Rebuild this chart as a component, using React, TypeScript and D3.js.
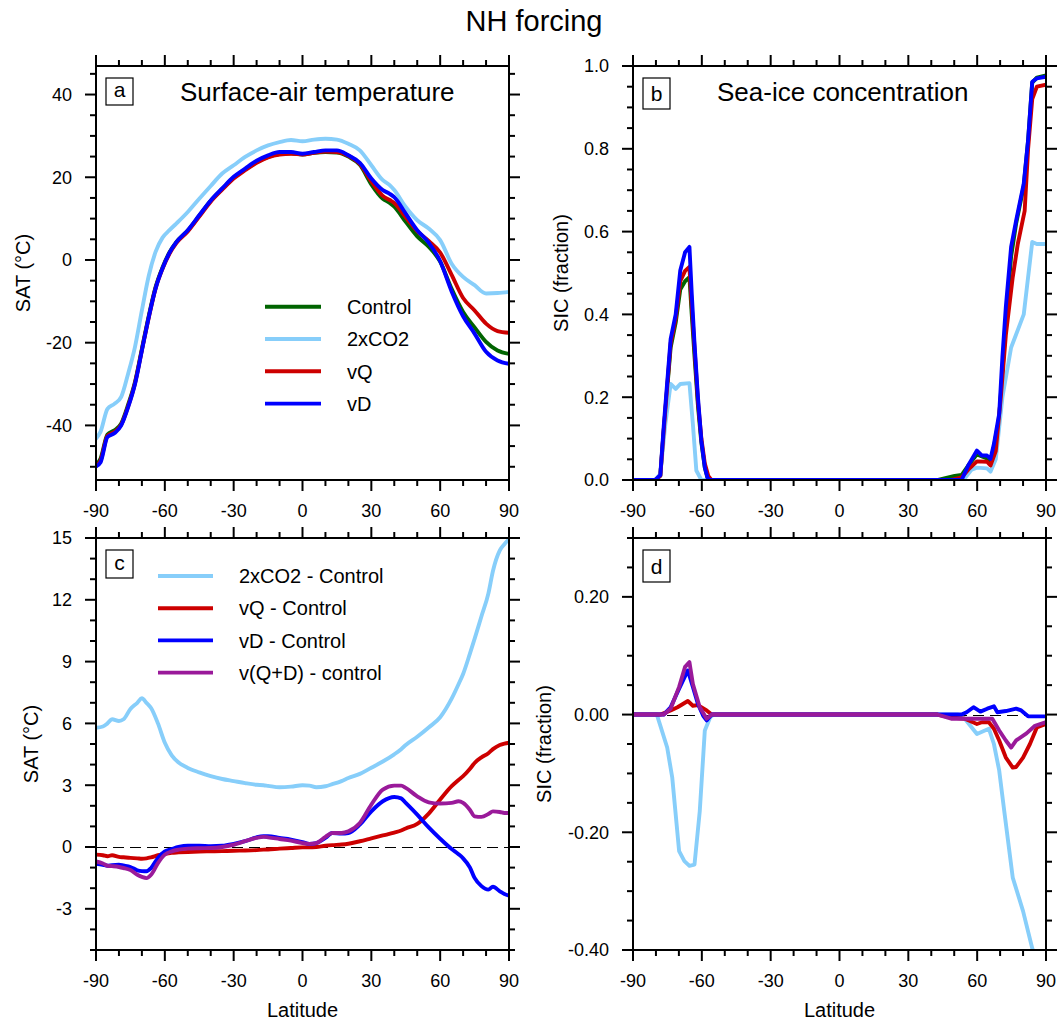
import React from 'react';
import * as d3 from 'd3';

// ---------- tick labels ----------
const latTicks = [-90, -60, -30, 0, 30, 60, 90];
const satTicksA = [-40, -20, 0, 20, 40];
const sicTicksB = [0, 0.2, 0.4, 0.6, 0.8, 1.0];
const satTicksC = [-3, 0, 3, 6, 9, 12, 15];
const sicTicksD = [-0.4, -0.2, 0, 0.2];

// ---------- panel a: surface-air temperature ----------
const latA = [-90, -88, -85, -82, -79, -76, -73, -70, -67, -64, -61, -58, -55, -50, -45, -40, -35, -30, -25, -20, -15, -10, -5, 0, 5, 10, 15, 20, 25, 30, 35, 38, 40, 45, 50, 55, 60, 65, 70, 75, 80, 85, 90];
const satControl = [-49.5, -48, -42.2, -41.2, -39.5, -35, -29.5, -21.5, -13.5, -6.5, -1.8, 1.8, 4.3, 7.1, 10.7, 14.3, 17.2, 19.9, 21.9, 23.6, 24.9, 25.6, 25.8, 25.5, 25.9, 26.1, 26.0, 25.0, 23.0, 18.3, 14.8, 13.8, 12.9, 9.2, 5.7, 3.2, -0.4, -7.0, -12.6, -16.3, -19.8, -21.9, -22.7];
const sat2xCO2 = [-43.2, -41.5, -36, -34.8, -33.1, -27.5, -21, -12.2, -3.8, 2.0, 5.4, 7.2, 8.8, 11.6, 14.8, 17.9, 20.9, 22.9, 24.9, 26.5, 27.7, 28.5, 29, 28.7, 29.1, 29.3, 29.1, 28.1, 26.5, 22.9, 19.3, 18.1, 16.9, 12.8, 9.6, 7.6, 4.8, -0.9, -4.1, -6.1, -8.1, -8, -7.7];
const satVQ = [-49.8, -48.5, -42.5, -41.6, -39.8, -35.4, -29.8, -21.8, -13.9, -6.8, -2.1, 1.5, 4.1, 6.9, 10.5, 14.1, 17.0, 19.7, 21.7, 23.5, 24.8, 25.5, 25.7, 25.5, 25.9, 26.2, 26.1, 25.2, 23.2, 19.0, 15.5, 14.5, 13.8, 10.3, 7.0, 4.6, 1.8, -3.6, -9.2, -12.2, -15.4, -17.2, -17.6];
const satVD = [-49.9, -48.9, -42.8, -41.9, -40, -35.6, -30, -21.9, -13.8, -6.8, -2.0, 1.7, 4.3, 7.2, 10.8, 14.4, 17.3, 20.1, 22.1, 24, 25.3, 26.1, 26.1, 25.7, 26.1, 26.5, 26.5, 25.3, 23.5, 19.7, 16.9, 16, 15.2, 11.2, 7.2, 4.2, -0.3, -7.6, -13.6, -17.8, -22.2, -24.3, -25.1];

// ---------- panel c: SAT differences ----------
const latC = [-90, -87, -85, -83, -80, -78, -75, -72, -70, -68, -66, -63, -60, -57, -54, -50, -45, -40, -35, -30, -25, -20, -17, -15, -10, -5, 0, 3, 6, 10, 13, 17, 20, 25, 30, 35, 40, 43, 45, 50, 55, 60, 65, 68, 70, 73, 75, 78, 81, 83, 86, 88, 90];
const dSat2xCO2 = [5.79, 5.85, 6.0, 6.2, 6.12, 6.2, 6.7, 7.0, 7.22, 7.0, 6.75, 6.0, 5.06, 4.45, 4.1, 3.84, 3.62, 3.44, 3.3, 3.2, 3.1, 3.02, 3.0, 2.97, 2.9, 2.93, 3.0, 2.98, 2.9, 2.95, 3.05, 3.2, 3.35, 3.55, 3.85, 4.15, 4.5, 4.75, 4.95, 5.35, 5.8, 6.3, 7.2, 7.9, 8.4, 9.4, 10.1, 11.2, 12.3, 13.4, 14.4, 14.7, 14.94];
const dSatVQ = [-0.37, -0.4, -0.45, -0.4, -0.48, -0.5, -0.53, -0.55, -0.57, -0.55, -0.5, -0.4, -0.33, -0.28, -0.26, -0.24, -0.22, -0.21, -0.2, -0.18, -0.17, -0.15, -0.13, -0.12, -0.08, -0.05, -0.02, -0.02, 0.0, 0.06, 0.09, 0.12, 0.16, 0.28, 0.42, 0.56, 0.7, 0.8, 0.9, 1.12, 1.62, 2.3, 2.95, 3.25, 3.44, 3.8, 4.08, 4.35, 4.55, 4.75, 4.95, 5.02, 5.06];
const dSatVD = [-0.81, -0.86, -0.91, -0.88, -0.86, -0.9, -0.97, -1.13, -1.17, -1.18, -1.02, -0.53, -0.21, -0.1, 0.0, 0.06, 0.06, 0.04, 0.06, 0.15, 0.28, 0.47, 0.52, 0.52, 0.44, 0.36, 0.24, 0.15, 0.19, 0.44, 0.68, 0.65, 0.68, 1.09, 1.73, 2.22, 2.43, 2.36, 2.14, 1.57, 0.95, 0.4, -0.1, -0.35, -0.55, -1.0, -1.5, -1.9, -2.07, -1.93, -2.15, -2.28, -2.36];
const dSatVQD = [-0.7, -0.8, -0.91, -0.93, -0.97, -1.02, -1.12, -1.35, -1.45, -1.51, -1.35, -0.78, -0.37, -0.21, -0.13, -0.08, -0.06, -0.05, 0.0, 0.11, 0.28, 0.44, 0.49, 0.47, 0.39, 0.31, 0.19, 0.15, 0.19, 0.49, 0.68, 0.68, 0.76, 1.17, 2.06, 2.79, 2.98, 2.98, 2.87, 2.46, 2.17, 2.11, 2.14, 2.22, 2.14, 1.8, 1.49, 1.46, 1.6, 1.73, 1.7, 1.65, 1.65];

// ---------- panel b: sea-ice concentration [lat, value] ----------
const sicControl: [number, number][] = [[-90, 0], [-80.3, 0], [-78.1, 0.01], [-76.6, 0.12], [-73.6, 0.32], [-71.4, 0.38], [-69.4, 0.46], [-67.3, 0.48], [-65.4, 0.49], [-64.4, 0.4], [-63.2, 0.3], [-61.7, 0.18], [-60.2, 0.09], [-58.7, 0.03], [-57.5, 0.005], [-56.4, 0], [43, 0], [45.7, 0.004], [50.2, 0.01], [53.2, 0.012], [56.1, 0.035], [59.9, 0.062], [64.3, 0.052], [65.8, 0.045], [67.3, 0.08], [69.6, 0.15], [72.5, 0.38], [74.8, 0.54], [77, 0.62], [80.3, 0.71], [82.2, 0.82], [84, 0.96], [86, 0.972], [90, 0.977]];
const sic2xCO2: [number, number][] = [[-90, 0], [-80.3, 0], [-78.1, 0.015], [-75.9, 0.135], [-73.6, 0.232], [-71.4, 0.22], [-69.4, 0.232], [-65.4, 0.234], [-63.9, 0.135], [-62.4, 0.023], [-60.2, 0], [51.7, 0], [54.7, 0.005], [57.6, 0.025], [59.9, 0.03], [64.3, 0.028], [65.8, 0.02], [68.1, 0.05], [71, 0.2], [74.8, 0.32], [80.3, 0.4], [84, 0.575], [86, 0.57], [90, 0.57]];
const sicVQ: [number, number][] = [[-90, 0], [-80.3, 0], [-78.1, 0.01], [-76.6, 0.12], [-73.6, 0.33], [-71.4, 0.39], [-69.4, 0.48], [-67.3, 0.505], [-65.4, 0.515], [-64.4, 0.42], [-63.2, 0.32], [-61.7, 0.19], [-60.2, 0.1], [-58.7, 0.04], [-57.2, 0.01], [-55.8, 0], [48.7, 0], [53.2, 0.006], [56.1, 0.025], [59.9, 0.045], [64.3, 0.044], [65.8, 0.035], [68.1, 0.07], [70.3, 0.2], [72.5, 0.35], [75.5, 0.49], [77.7, 0.57], [80.7, 0.65], [82.2, 0.8], [84, 0.92], [86, 0.95], [90, 0.955]];
const sicVD: [number, number][] = [[-90, 0], [-80.3, 0], [-78.1, 0.012], [-76.6, 0.13], [-73.6, 0.34], [-71.4, 0.4], [-69.4, 0.506], [-67.3, 0.55], [-65.4, 0.563], [-64.4, 0.45], [-63.2, 0.33], [-61.7, 0.2], [-60.2, 0.095], [-58.7, 0.03], [-57.5, 0.005], [-56.4, 0], [53.2, 0], [56.1, 0.035], [59.9, 0.071], [62.1, 0.059], [64.3, 0.059], [65.8, 0.051], [67.3, 0.087], [69.6, 0.16], [71, 0.297], [72.5, 0.418], [74.8, 0.563], [77, 0.627], [80.3, 0.716], [82.2, 0.821], [84, 0.962], [86, 0.97], [90, 0.974]];

// ---------- panel d: SIC differences [lat, value] ----------
const dSic2xCO2: [number, number][] = [[-90, 0], [-79.6, 0], [-75.1, -0.056], [-72.9, -0.107], [-69.9, -0.232], [-67.6, -0.249], [-65.4, -0.257], [-63.2, -0.255], [-60.9, -0.164], [-58.7, -0.027], [-56.4, -0.005], [-54.9, 0], [51.7, 0], [54.6, -0.007], [59.9, -0.033], [65.1, -0.024], [67.3, -0.05], [69.6, -0.095], [71.8, -0.164], [75.5, -0.277], [80, -0.334], [84, -0.397], [86, -0.42]];
const dSicVQ: [number, number][] = [[-90, 0], [-78.1, 0], [-73.6, 0.007], [-70.6, 0.0125], [-66.1, 0.023], [-63.9, 0.015], [-61.7, 0.016], [-57.9, 0.007], [-55.7, 0], [42.7, 0], [48.7, -0.005], [54.6, -0.007], [59.9, -0.016], [62.1, -0.013], [65.1, -0.013], [67.3, -0.024], [69.6, -0.044], [72.5, -0.073], [75.5, -0.09], [77, -0.089], [80, -0.073], [83, -0.05], [86, -0.022], [90, -0.016]];
const dSicVD: [number, number][] = [[-90, 0], [-76.6, 0], [-73.6, 0.0125], [-69.9, 0.044], [-66.1, 0.075], [-63.9, 0.047], [-61.7, 0.018], [-59.4, -0.002], [-57.9, -0.01], [-55.7, 0], [45.7, 0], [53.2, 0], [55.4, 0.004], [58.4, 0.0125], [61.4, 0.005], [64.4, 0.01], [67.3, 0.014], [68.8, 0.004], [72.5, 0.006], [77, 0.01], [79.2, 0.007], [82.2, -0.003], [90, -0.003]];
const dSicVQD: [number, number][] = [[-90, 0], [-76.6, 0], [-73.6, 0.01], [-69.9, 0.047], [-67.3, 0.081], [-65.4, 0.089], [-63.9, 0.052], [-60.9, 0.0125], [-57.9, -0.007], [-55.7, 0], [42.7, 0], [48.7, -0.007], [54.6, -0.007], [59.9, -0.007], [66.6, -0.007], [69.6, -0.027], [72.5, -0.044], [74.8, -0.056], [77, -0.044], [81.5, -0.032], [85.2, -0.019], [90, -0.013]];

// ---------- legends ----------
const legendA = ['Control', '2xCO2', 'vQ', 'vD'];
const legendC = ['2xCO2 - Control', 'vQ - Control', 'vD - Control', 'v(Q+D) - control'];

const C_CONTROL = '#006400';
const C_2X = '#87CEFA';
const C_VQ = '#CD0000';
const C_VD = '#0000FF';
const C_VQD = '#9A1A9A';

const FONT = '"Liberation Sans", Arial, Helvetica, sans-serif';

const zip = (lats: number[], vals: number[]): [number, number][] => lats.map((l, i) => [l, vals[i]]);

type Series = { data: [number, number][]; color: string };

type PanelProps = {
  id: string;
  left: number;
  top: number;
  width: number;
  height: number;
  yDomain: [number, number];
  yTicks: number[];
  yMinorStep: number;
  yFmt: (v: number) => string;
  series: Series[];
  curve: d3.CurveFactory;
  letter: string;
  boxH: number;
  title?: string;
  yLabel: string;
  yLabelX: number;
  xLabel?: string;
  zeroLine?: boolean;
  legend?: { labels: string[]; colors: string[]; x1: number; x2: number; tx: number; y0: number; dy: number };
};

function Panel(p: PanelProps) {
  const x = d3.scaleLinear().domain([-90, 90]).range([p.left, p.left + p.width]);
  const y = d3.scaleLinear().domain(p.yDomain).range([p.top + p.height, p.top]);
  const line = d3.line<[number, number]>().x(d => x(d[0])).y(d => y(d[1])).curve(p.curve);
  const xMinor = d3.range(-90, 90.001, 10);
  const yMinor = d3.range(Math.ceil(p.yDomain[0] / p.yMinorStep - 1e-6) * p.yMinorStep, p.yDomain[1] + 1e-6, p.yMinorStep);
  const bottom = p.top + p.height;
  const right = p.left + p.width;
  const MAJ = 11, MIN = 6;
  const boxX = p.left + 10, boxY = p.top + 12, boxW = 27;
  const zy = Math.round(y(0)) + 0.5;
  return (
    <g>
      <defs>
        <clipPath id={'clip-' + p.id}>
          <rect x={p.left} y={p.top} width={p.width} height={p.height} />
        </clipPath>
      </defs>
      {p.zeroLine && (
        <line x1={p.left} x2={right} y1={zy} y2={zy} stroke="#000" strokeWidth={1} strokeDasharray="11,6" />
      )}
      <g clipPath={`url(#clip-${p.id})`}>
        {p.series.map((s, i) => (
          <path key={i} d={line(s.data) || ''} fill="none" stroke={s.color} strokeWidth={3.9} strokeLinejoin="round" strokeLinecap="round" />
        ))}
      </g>
      {/* frame */}
      <rect x={p.left} y={p.top} width={p.width} height={p.height} fill="none" stroke="#000" strokeWidth={2} />
      {/* x ticks */}
      {xMinor.map((v, i) => {
        const major = latTicks.includes(Math.round(v));
        const L = major ? MAJ : MIN;
        return (
          <g key={'xt' + i}>
            <line x1={x(v)} x2={x(v)} y1={bottom} y2={bottom + L} stroke="#000" strokeWidth={2} />
            <line x1={x(v)} x2={x(v)} y1={p.top} y2={p.top - L} stroke="#000" strokeWidth={2} />
          </g>
        );
      })}
      {latTicks.map((v, i) => (
        <text key={'xl' + i} x={x(v)} y={bottom + 37} textAnchor="middle" fontSize={18} fontFamily={FONT}>{v}</text>
      ))}
      {/* y ticks */}
      {yMinor.map((v, i) => {
        const major = p.yTicks.some(t => Math.abs(t - v) < 1e-6);
        const L = major ? MAJ : MIN;
        return (
          <g key={'yt' + i}>
            <line x1={p.left} x2={p.left - L} y1={y(v)} y2={y(v)} stroke="#000" strokeWidth={2} />
            <line x1={right} x2={right + L} y1={y(v)} y2={y(v)} stroke="#000" strokeWidth={2} />
          </g>
        );
      })}
      {p.yTicks.map((v, i) => (
        <text key={'yl' + i} x={p.left - 24} y={y(v)} dy="0.36em" textAnchor="end" fontSize={18} fontFamily={FONT}>{p.yFmt(v)}</text>
      ))}
      {/* letter box */}
      <rect x={boxX} y={boxY} width={boxW} height={p.boxH} fill="#fff" stroke="#000" strokeWidth={1.2} />
      <text x={boxX + boxW / 2} y={boxY + p.boxH - 8} textAnchor="middle" fontSize={21} fontFamily={FONT}>{p.letter}</text>
      {p.title && (
        <text x={p.left + 84} y={p.top + 35} fontSize={26} fontFamily={FONT}>{p.title}</text>
      )}
      <text transform={`translate(${p.yLabelX},${p.top + p.height / 2}) rotate(-90)`} dy="0.36em" textAnchor="middle" fontSize={20} fontFamily={FONT}>{p.yLabel}</text>
      {p.xLabel && (
        <text x={p.left + p.width / 2} y={1017} textAnchor="middle" fontSize={20} fontFamily={FONT}>{p.xLabel}</text>
      )}
      {p.legend && p.legend.labels.map((lab, i) => {
        const ly = p.legend!.y0 + i * p.legend!.dy;
        return (
          <g key={'lg' + i}>
            <line x1={p.legend!.x1} x2={p.legend!.x2} y1={ly} y2={ly} stroke={p.legend!.colors[i]} strokeWidth={3.9} />
            <text x={p.legend!.tx} y={ly} dy="0.36em" fontSize={20} fontFamily={FONT}>{lab}</text>
          </g>
        );
      })}
    </g>
  );
}

export default function App() {
  const intFmt = (v: number) => String(v);
  const f1 = (v: number) => v.toFixed(1);
  const f2 = (v: number) => (Math.abs(v) < 1e-9 ? '0.00' : v.toFixed(2));
  return (
    <svg width={1057} height={1022} style={{ position: 'absolute', left: 0, top: 0, background: '#fff' }}>
      <rect x={0} y={0} width={1057} height={1022} fill="#fff" />
      <text x={534} y={31} textAnchor="middle" fontSize={29} fontFamily={FONT}>NH forcing</text>
      <Panel
        id="a" left={96} top={66} width={413} height={414}
        yDomain={[-53.2, 46.9]} yTicks={satTicksA} yMinorStep={5} yFmt={intFmt}
        series={[
          { data: zip(latA, satControl), color: C_CONTROL },
          { data: zip(latA, sat2xCO2), color: C_2X },
          { data: zip(latA, satVQ), color: C_VQ },
          { data: zip(latA, satVD), color: C_VD },
        ]}
        curve={d3.curveMonotoneX}
        letter="a" boxH={27} title="Surface-air temperature"
        yLabel="SAT (°C)" yLabelX={23}
        legend={{ labels: legendA, colors: [C_CONTROL, C_2X, C_VQ, C_VD], x1: 265, x2: 321, tx: 347, y0: 306.7, dy: 32.3 }}
      />
      <Panel
        id="b" left={633} top={66} width={413} height={414}
        yDomain={[0, 1]} yTicks={sicTicksB} yMinorStep={0.05} yFmt={f1}
        series={[
          { data: sicControl, color: C_CONTROL },
          { data: sic2xCO2, color: C_2X },
          { data: sicVQ, color: C_VQ },
          { data: sicVD, color: C_VD },
        ]}
        curve={d3.curveLinear}
        letter="b" boxH={31} title="Sea-ice concentration"
        yLabel="SIC (fraction)" yLabelX={561}
      />
      <Panel
        id="c" left={96} top={538} width={413} height={412}
        yDomain={[-5, 15]} yTicks={satTicksC} yMinorStep={1} yFmt={intFmt}
        series={[
          { data: zip(latC, dSat2xCO2), color: C_2X },
          { data: zip(latC, dSatVQ), color: C_VQ },
          { data: zip(latC, dSatVD), color: C_VD },
          { data: zip(latC, dSatVQD), color: C_VQD },
        ]}
        curve={d3.curveMonotoneX}
        letter="c" boxH={28}
        yLabel="SAT (°C)" yLabelX={31} xLabel="Latitude" zeroLine
        legend={{ labels: legendC, colors: [C_2X, C_VQ, C_VD, C_VQD], x1: 158, x2: 213, tx: 239, y0: 576, dy: 32.2 }}
      />
      <Panel
        id="d" left={633} top={538} width={413} height={412}
        yDomain={[-0.4, 0.3]} yTicks={sicTicksD} yMinorStep={0.05} yFmt={f2}
        series={[
          { data: dSic2xCO2, color: C_2X },
          { data: dSicVQ, color: C_VQ },
          { data: dSicVD, color: C_VD },
          { data: dSicVQD, color: C_VQD },
        ]}
        curve={d3.curveLinear}
        letter="d" boxH={32}
        yLabel="SIC (fraction)" yLabelX={544} xLabel="Latitude" zeroLine
      />
    </svg>
  );
}
